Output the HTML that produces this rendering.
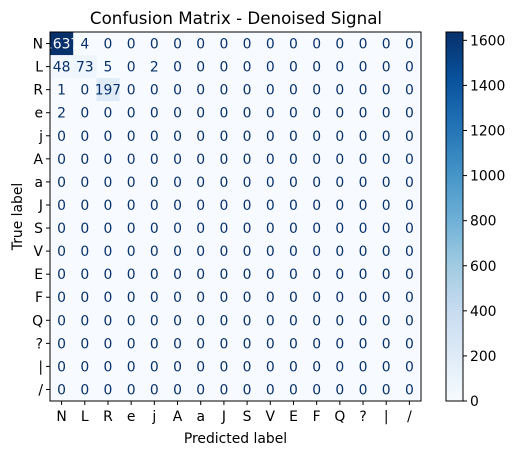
<!DOCTYPE html>
<html><head><meta charset="utf-8"><style>
body{margin:0;background:#fff}
svg{font-family:"DejaVu Sans","Liberation Sans",sans-serif}
</style></head><body>
<svg id="c" width="518" height="455" xmlns="http://www.w3.org/2000/svg"></svg>
<script>
const labels=["N","L","R","e","j","A","a","J","S","V","E","F","Q","?","|","/"];
const row0=[1637,4,0,0,0,0,0,0,0,0,0,0,0,0,0,0];
const row1=[48,73,5,0,2,0,0,0,0,0,0,0,0,0,0,0];
const row2=[1,0,197,0,0,0,0,0,0,0,0,0,0,0,0,0];
const row3=[2,0,0,0,0,0,0,0,0,0,0,0,0,0,0,0];
const cbTicks=[0,200,400,600,800,1000,1200,1400,1600];
const rows=[row0,row1,row2,row3];
const M=labels.map((_,i)=>rows[i]||labels.map(()=>0));
const NS="http://www.w3.org/2000/svg",svg=document.getElementById('c');
function el(t,a,txt){const e=document.createElementNS(NS,t);for(const k in a)e.setAttribute(k,a[k]);if(txt!==undefined)e.textContent=txt;svg.appendChild(e);return e;}
const stops=["#f7fbff","#deebf7","#c6dbef","#9ecae1","#6baed6","#4292c6","#2171b5","#08519c","#08306b"];
function hex(h){return[1,3,5].map(i=>parseInt(h.substr(i,2),16));}
let vmax=0;M.forEach(r=>r.forEach(v=>vmax=Math.max(vmax,v)));
function cmap(t){t=Math.max(0,Math.min(1,t))*8;const i=Math.min(7,Math.floor(t)),f=t-i;const a=hex(stops[i]),b=hex(stops[i+1]);return`rgb(${a.map((x,k)=>Math.round(x+(b[k]-x)*f)).join(',')})`;}
const X0=50,Y0=32,W=371,H=369,n=labels.length,cw=W/n,ch=H/n;
const xs=j=>X0+j*cw,ys=i=>Y0+i*ch;
const FS=13.9;
el('text',{x:236,y:24,'font-size':16.7,'text-anchor':'middle',fill:'#000',},'Confusion Matrix - Denoised Signal');
for(let i=0;i<n;i++)for(let j=0;j<n;j++){const v=M[i][j];
 const r=el('rect',{x:xs(j),y:ys(i),width:cw+0.5,height:ch+0.5,fill:cmap(v/vmax)});
 
 
 const t=el('text',{x:xs(j)+cw/2,y:ys(i)+ch/2+5,'font-size':FS,'text-anchor':'middle',fill:v/vmax>0.5?'#fff':'#08306b'},String(v));
 
 }
el('rect',{x:X0,y:Y0,width:W,height:H,fill:'none',stroke:'#000','stroke-width':1,});
labels.forEach((l,k)=>{
 el('line',{x1:xs(k)+cw/2,x2:xs(k)+cw/2,y1:Y0+H,y2:Y0+H+4,stroke:'#000'});
 const a=el('text',{x:xs(k)+cw/2,y:Y0+H+20,'font-size':FS,'text-anchor':'middle'},l);
 
 el('line',{x1:X0-4,x2:X0,y1:ys(k)+ch/2,y2:ys(k)+ch/2,stroke:'#000'});
 const b=el('text',{x:X0-7,y:ys(k)+ch/2+5,'font-size':FS,'text-anchor':'end'},l);
 
});
el('text',{x:X0+W/2,y:443,'font-size':FS,'text-anchor':'middle',},'Predicted label');
el('text',{x:22,y:Y0+H/2,'font-size':FS,'text-anchor':'middle',transform:`rotate(-90 22 ${Y0+H/2})`,},'True label');
const CX=446,CW=17,CT=32,CB=401;
const defs=el('defs',{});const g=document.createElementNS(NS,'linearGradient');g.setAttribute('id','gr');g.setAttribute('x1','0');g.setAttribute('y1','1');g.setAttribute('x2','0');g.setAttribute('y2','0');defs.appendChild(g);
stops.forEach((s,i)=>{const st=document.createElementNS(NS,'stop');st.setAttribute('offset',i/8);st.setAttribute('stop-color',s);g.appendChild(st);});
el('rect',{x:CX,y:CT,width:CW,height:CB-CT,fill:'url(#gr)',stroke:'#000','stroke-width':1,});
const cy=v=>CB-(v/vmax)*(CB-CT);
cbTicks.forEach(v=>{el('line',{x1:CX+CW,x2:CX+CW+4,y1:cy(v),y2:cy(v),stroke:'#000'});
 const t=el('text',{x:CX+CW+7,y:cy(v)+5,'font-size':FS},String(v));
 });
</script>
</body></html>
